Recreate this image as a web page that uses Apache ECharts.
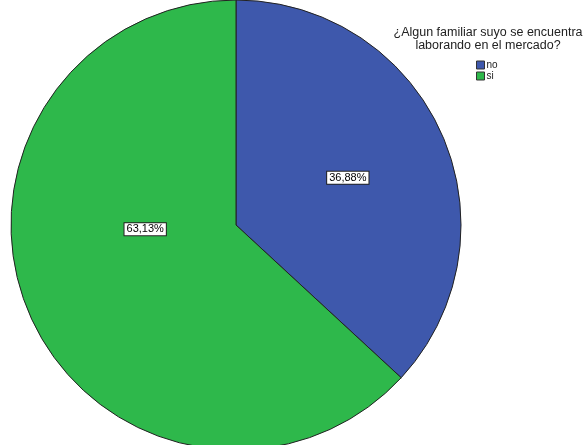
<!DOCTYPE html>
<html>
<head>
<meta charset="utf-8">
<script src="https://cdn.jsdelivr.net/npm/echarts@6/dist/echarts.min.js"></script>
<style>
  html, body { margin: 0; padding: 0; background: #fff; }
  #chart { width: 585px; height: 445px; }
</style>
</head>
<body>
<div id="chart"></div>
<script>
// datos
var categorias = ['no', 'si'];
var porcentajes = [36.88, 63.13];
var colores = ['#3e58ac', '#2eb84b'];
var tituloLeyenda = '¿Algun familiar suyo se encuentra\nlaborando en el mercado?';

// ajuste de las etiquetas (SPSS no las pone en el ángulo medio)
var ajusteEtiqueta = { no: [6, -1], si: [15, -42] };

var chart = echarts.init(document.getElementById('chart'));

var datos = categorias.map(function (c, i) {
  return { name: c, value: porcentajes[i], itemStyle: { color: colores[i] } };
});

chart.setOption({
  backgroundColor: '#fff',
  animation: false,
  title: {
    text: tituloLeyenda,
    left: 483,
    top: 21,
    textAlign: 'center',
    textStyle: {
      fontFamily: 'Liberation Sans, Arial, sans-serif',
      fontSize: 12.5,
      fontWeight: 'normal',
      color: '#222',
      lineHeight: 13,
      align: 'center'
    }
  },
  legend: {
    orient: 'vertical',
    left: 471,
    top: 55,
    itemWidth: 8,
    itemHeight: 8,
    itemGap: 1,
    icon: 'rect',
    data: categorias,
    itemStyle: { borderColor: '#333', borderWidth: 1 },
    textStyle: {
      fontFamily: 'Liberation Sans, Arial, sans-serif',
      fontSize: 10,
      lineHeight: 10,
      color: '#222',
      padding: [0, 0, 0, -3]
    }
  },
  series: [{
    type: 'pie',
    center: [236, 225],
    radius: [0, 225],
    startAngle: 90,
    clockwise: true,
    avoidLabelOverlap: false,
    itemStyle: { borderColor: '#222', borderWidth: 1 },
    label: {
      show: true,
      position: 'inside',
      fontFamily: 'Liberation Sans, Arial, sans-serif',
      fontSize: 11,
      color: '#000',
      backgroundColor: '#fff',
      borderColor: '#222',
      borderWidth: 1,
      padding: [1, 2, 0, 2],
      formatter: function (p) {
        return p.value.toFixed(2).replace('.', ',') + '%';
      }
    },
    labelLayout: function (p) {
      var a = ajusteEtiqueta[categorias[p.dataIndex]];
      return { dx: a[0], dy: a[1] };
    },
    emphasis: { disabled: true },
    data: datos
  }]
});
</script>
</body>
</html>
